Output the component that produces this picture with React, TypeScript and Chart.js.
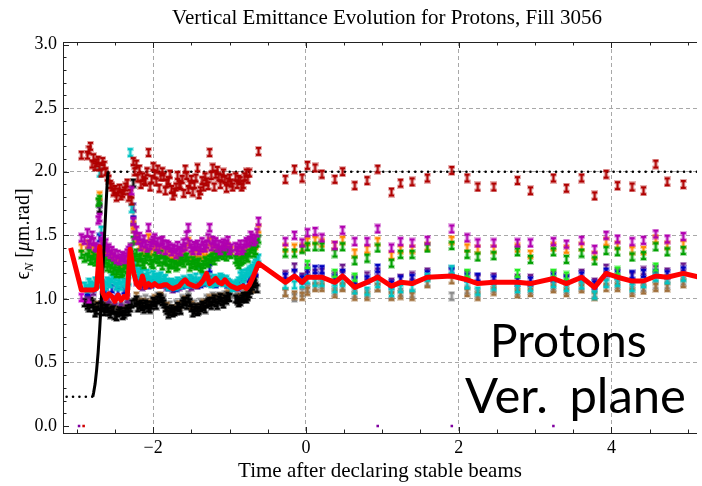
import { useEffect, useRef } from "react";
import { Chart, registerables } from "chart.js";

Chart.register(...registerables);

const titleText = "Vertical Emittance Evolution for Protons, Fill 3056";
const xTitleText = "Time after declaring stable beams";
const noteLine1 = "Protons";
const noteLine2 = "Ver. plane";

// dense region (before stable beams), first sample per column
const denseX = [-2.94, -2.86, -2.82, -2.78, -2.74, -2.70, -2.66, -2.62, -2.58, -2.54,
  -2.50, -2.46, -2.42, -2.38, -2.34, -2.30, -2.26, -2.22, -2.18, -2.14,
  -2.10, -2.06, -2.02, -1.98, -1.94, -1.90, -1.86, -1.82, -1.78, -1.74,
  -1.70, -1.66, -1.62, -1.58, -1.54, -1.50, -1.46, -1.42, -1.38, -1.34,
  -1.30, -1.26, -1.22, -1.18, -1.14, -1.10, -1.06, -1.02, -0.98, -0.94,
  -0.90, -0.86, -0.82, -0.78, -0.74, -0.70, -0.66, -0.62];

const darkRedDense = [2.13, 2.13, 2.20, 2.11, 2.07, 2.04, 2.08, 2.00, 1.94, 1.88,
  1.86, 1.84, 1.81, 1.85, 1.91, 1.83, 2.08, 2.06, 2.02, 1.96,
  1.92, 2.15, 1.94, 1.98, 2.02, 1.96, 1.96, 1.91, 1.98, 1.81,
  1.88, 1.90, 1.94, 2.02, 1.86, 1.94, 1.90, 2.03, 1.85, 1.88,
  1.92, 2.15, 2.03, 1.98, 1.96, 1.95, 1.94, 1.92, 1.91, null,
  1.90, 1.93, 1.90, 1.99, 1.99, null, null, 2.16];

const magentaDense = [1.48, 1.52, 1.46, 1.45, 1.40, 1.64, 1.49, 1.44, 1.40, 1.38,
  1.36, 1.35, 1.32, 1.33, 1.36, 1.40, 1.61, 1.54, 1.49, 1.44,
  1.43, 1.56, 1.44, 1.48, 1.45, 1.45, 1.43, 1.43, 1.40, 1.40,
  1.35, 1.38, 1.40, 1.41, 1.56, 1.40, 1.42, 1.43, 1.40, 1.42,
  1.43, 1.56, 1.46, 1.45, 1.43, 1.42, 1.41, 1.46, 1.40, null,
  1.38, 1.43, 1.40, 1.45, 1.46, 1.48, 1.47, 1.61];

const orangeDense = [1.40, 1.43, 1.40, 1.38, 1.36, 1.81, 1.42, 1.38, 1.35, 1.33,
  1.31, 1.29, 1.27, 1.29, 1.30, 1.33, 1.58, 1.47, 1.42, 1.37,
  1.37, 1.48, 1.37, 1.41, 1.39, 1.40, 1.37, 1.37, 1.35, 1.34,
  1.31, 1.33, 1.35, 1.37, 1.45, 1.34, 1.35, 1.36, 1.33, 1.35,
  1.37, 1.45, 1.39, 1.39, 1.38, 1.38, 1.39, 1.41, 1.38, null,
  1.36, 1.37, 1.36, 1.39, 1.41, 1.44, 1.42, 1.55];

const greenDense = [1.35, 1.33, 1.30, 1.34, 1.32, 1.78, 1.35, 1.31, 1.28, 1.27,
  1.25, 1.22, 1.20, 1.24, 1.23, 1.25, 1.46, 1.36, 1.32, 1.29,
  1.31, 1.36, 1.28, 1.32, 1.31, 1.35, 1.31, 1.29, 1.27, 1.27,
  1.25, 1.29, 1.30, 1.32, 1.30, 1.27, 1.28, 1.28, 1.25, 1.27,
  1.29, 1.31, 1.33, 1.35, 1.35, 1.36, 1.36, 1.37, 1.35, null,
  1.29, 1.29, 1.31, 1.33, 1.36, 1.41, 1.38, 1.47];

const cyanDense = [null, 1.08, 1.11, 1.10, 1.12, 1.99, 1.12, 1.10, 1.13, 1.16,
  1.14, 1.12, 1.10, 1.13, 1.11, 2.15, 1.32, 1.24, 1.19, 1.20,
  1.17, 1.18, 1.15, 1.17, 1.16, 1.18, 1.15, 1.13, 1.12, 1.11,
  1.10, 1.12, 1.13, 1.14, 1.13, 1.15, 1.14, 1.27, 1.14, 1.16,
  1.15, 1.13, 1.14, 1.13, 1.15, 1.16, 1.15, 1.13, 1.11, 1.10,
  1.12, 1.18, 1.16, 1.20, 1.22, 1.24, 1.28, 1.32];

const blackDense = [null, 0.95, 0.98, 0.93, 0.91, 1.71, 0.93, 0.92, 0.90, 0.91,
  0.87, 0.89, 0.90, 0.88, 0.92, 0.93, 1.91, 0.99, 0.95, 0.94,
  0.96, 0.93, 0.95, 0.97, 0.99, 1.00, 0.96, 0.91, 0.90, 0.89,
  0.91, 0.93, 0.96, 0.98, 1.00, 0.93, 0.91, 0.90, 0.93, 0.94,
  0.96, 0.98, 0.98, 0.97, 0.99, 0.98, 1.00, 1.02, null, null,
  0.99, 0.98, 1.02, 1.00, 1.04, 1.10, 1.15, null];

const purpleDense = [null, 1.04, null, 1.06, null, 1.75, 1.02, null, 1.00, null,
  0.99, null, 0.98, null, 1.00, null, 1.72, 1.14, null, 1.10,
  null, 1.11, null, 1.13, null, 1.12, null, 1.10, null, 1.08,
  null, 1.10, null, 1.12, null, 1.10, null, 1.11, null, 1.13,
  null, 1.15, null, 1.14, null, 1.15, null, 1.12, null, null,
  1.10, null, 1.12, null, 1.17, null, 1.22, null];

const blueDense = [null, 1.06, null, 1.09, null, 1.48, null, 1.05, null, 1.08,
  null, 1.06, null, 1.07, null, null, 1.62, null, 1.15, null,
  1.13, null, 1.12, null, 1.14, null, 1.12, null, 1.10, null,
  1.09, null, 1.11, null, 1.12, null, 1.13, null, 1.12, null,
  1.14, 1.24, null, 1.12, null, 1.14, null, 1.12, null, null,
  1.10, null, 1.13, null, 1.16, null, 1.21, null];

const grayDense = [null, 0.99, null, 0.97, null, null, 0.96, null, 0.95, null,
  0.93, null, 0.94, null, 0.96, null, 1.66, null, 0.99, null,
  1.00, null, 0.99, null, 1.02, null, 1.00, null, 0.95, null,
  0.96, null, 1.00, null, 1.03, null, 0.96, null, 0.97, null,
  1.00, null, 1.02, null, 1.02, null, 1.03, null, 1.04, null,
  1.02, null, 1.04, null, 1.07, null, 1.12, null];

const brownDense = [null, null, 0.97, null, 0.95, null, null, 0.94, null, 0.93,
  null, 0.91, null, 0.92, null, null, 1.55, 1.02, null, 0.97,
  null, 0.96, null, 1.00, null, 1.02, null, 0.94, null, 0.92,
  null, 0.95, null, 0.99, null, 0.95, null, 0.93, null, 0.96,
  null, 1.00, null, 1.00, null, 1.01, null, 1.04, null, null,
  null, 1.01, null, 1.03, null, 1.08, null, null];

const meanDense = [1.07, 1.07, 1.07, 1.07, 1.08, 1.41, 1.05, 1.00, 1.04, 1.02,
  0.98, 1.03, 0.99, 1.02, 1.01, 1.39, 1.22, 1.12, 1.09, 1.18,
  1.09, 1.12, 1.10, 1.12, 1.10, 1.10, 1.11, 1.11, 1.09, 1.08,
  1.09, 1.10, 1.13, 1.15, 1.12, 1.11, 1.10, 1.10, 1.12, 1.15,
  1.20, 1.12, 1.14, 1.16, 1.13, 1.12, 1.15, 1.12, 1.10, 1.09,
  1.08, 1.09, 1.10, 1.08, 1.11, 1.16, 1.22, 1.28];

// dense region, second sample per column (in-between times)
const denseX2 = [-2.90, -2.84, -2.80, -2.76, -2.72, -2.68, -2.64, -2.60, -2.56, -2.52,
  -2.48, -2.44, -2.40, -2.36, -2.32, -2.28, -2.24, -2.20, -2.16, -2.12,
  -2.08, -2.04, -2.00, -1.96, -1.92, -1.88, -1.84, -1.80, -1.76, -1.72,
  -1.68, -1.64, -1.60, -1.56, -1.52, -1.48, -1.44, -1.40, -1.36, -1.32,
  -1.28, -1.24, -1.20, -1.16, -1.12, -1.08, -1.04, -1.00, -0.96, -0.92,
  -0.88, -0.84, -0.80, -0.76, -0.72, -0.68, -0.64];

const darkRedDense2 = [null, 2.17, 2.06, 2.04, 2.09, 1.99, 2.05, 1.96, 1.90, 1.84,
  1.80, 1.87, 1.83, 1.88, 1.80, 1.77, 2.00, 1.95, 1.90, 1.93,
  2.00, 1.88, 2.04, 1.92, 1.87, 2.00, 1.85, 1.93, 1.86, 1.84,
  1.97, 1.89, 1.83, 1.97, 1.90, 1.84, 1.95, 1.82, 1.93, 1.96,
  1.89, 1.97, 1.88, 2.01, 1.90, 1.99, 1.87, 1.95, 1.88, 1.96,
  1.94, 1.88, 1.96, 1.94, null, null, null];

const magentaDense2 = [1.46, 1.43, 1.50, 1.41, 1.62, 1.45, 1.41, 1.37, 1.35, 1.33,
  1.31, 1.30, 1.34, 1.31, 1.38, 1.85, 1.50, 1.46, 1.41, 1.47,
  1.40, 1.42, 1.46, 1.41, 1.39, 1.46, 1.38, 1.42, 1.37, 1.39,
  1.42, 1.37, 1.44, 1.50, 1.43, 1.38, 1.41, 1.38, 1.45, 1.40,
  1.48, 1.41, 1.43, 1.40, 1.38, 1.44, 1.43, 1.38, null, 1.41,
  1.40, 1.38, 1.43, 1.44, 1.50, 1.45, 1.52];

const greenDense2 = [1.32, 1.36, 1.31, 1.29, 1.76, 1.32, 1.28, 1.25, 1.24, 1.22,
  1.20, 1.24, 1.21, 1.27, 1.22, 1.40, 1.33, 1.29, 1.33, 1.27,
  1.33, 1.30, 1.27, 1.34, 1.29, 1.26, 1.30, 1.24, 1.28, 1.27,
  1.26, 1.31, 1.28, 1.33, 1.25, 1.30, 1.26, 1.29, 1.24, 1.30,
  1.28, 1.32, 1.30, 1.33, 1.37, 1.34, 1.33, 1.36, null, 1.31,
  1.27, 1.30, 1.35, 1.32, 1.39, 1.36, 1.44];

const cyanDense2 = [1.10, 1.13, 1.09, 1.14, 1.12, 1.54, 1.11, 1.14, 1.12, 1.18,
  1.10, 1.14, 1.16, 1.12, 1.14, 1.71, 1.27, 1.21, 1.22, 1.16,
  1.20, 1.14, 1.19, 1.14, 1.17, 1.13, 1.16, 1.10, 1.13, 1.12,
  1.14, 1.11, 1.15, 1.12, 1.16, 1.12, 1.17, 1.13, 1.17, 1.14,
  1.17, 1.12, 1.16, 1.14, 1.17, 1.13, 1.15, 1.12, 1.09, 1.11,
  1.14, 1.20, 1.18, 1.21, 1.23, 1.26, 1.30];

const blackDense2 = [0.97, 0.93, 0.96, 0.89, 0.94, 0.95, 0.90, 0.93, 0.88, 0.92,
  0.86, 0.91, 0.87, 0.90, 0.90, 0.96, 0.97, 0.93, 0.96, 0.92,
  0.95, 0.92, 0.98, 0.95, 1.01, 0.98, 0.93, 0.88, 0.92, 0.90,
  0.94, 0.91, 0.98, 0.95, 0.97, 0.89, 0.93, 0.91, 0.95, 0.92,
  0.97, 0.95, 1.00, 0.95, 1.01, 0.96, 0.99, 1.01, null, 1.00,
  0.97, 1.00, 1.01, 1.02, 1.07, 1.12, 1.08];

// sparse region (after stable beams)
const sparseX = [-0.27, -0.15, -0.05, 0.02, 0.12, 0.21, 0.38, 0.48, 0.64, 0.80,
  0.94, 1.12, 1.24, 1.39, 1.59, 1.91, 2.11, 2.25, 2.46, 2.77,
  2.94, 3.24, 3.41, 3.61, 3.78, 3.93, 4.08, 4.27, 4.42, 4.58,
  4.73, 4.94];

const darkRedSparse = [1.94, 2.02, 1.95, 2.05, 2.03, 1.98, 1.94, 2.00, 1.89, 1.93,
  2.02, 1.84, 1.91, 1.92, 1.95, 2.01, 1.95, 1.88, 1.88, 1.93,
  1.85, 1.95, 1.87, 1.95, 1.81, 1.98, 1.89, 1.88, 1.85, 2.06,
  1.92, 1.90];
const magentaSparse = [1.45, 1.50, 1.44, 1.52, 1.53, 1.48, 1.42, 1.54, 1.45, 1.45,
  1.55, 1.40, 1.45, 1.44, 1.46, 1.55, 1.48, 1.44, 1.44, 1.44,
  1.44, 1.45, 1.43, 1.46, 1.39, 1.50, 1.47, 1.45, 1.46, 1.51,
  1.47, 1.49];
const orangeSparse = [1.40, 1.40, 1.40, 1.45, 1.46, 1.44, 1.42, 1.46, 1.36, 1.39,
  1.45, 1.34, 1.39, 1.39, 1.41, 1.46, 1.40, 1.39, 1.39, 1.40,
  1.35, 1.41, 1.39, 1.41, 1.34, 1.45, 1.42, 1.38, 1.38, 1.47,
  1.42, 1.43];
const greenSparse = [1.36, 1.36, 1.39, 1.41, 1.41, 1.41, 1.36, 1.41, 1.30, 1.32,
  1.40, 1.28, 1.35, 1.35, 1.40, 1.42, 1.35, 1.33, 1.34, 1.37,
  1.31, 1.37, 1.31, 1.36, 1.30, 1.38, 1.37, 1.33, 1.34, 1.41,
  1.37, 1.38];
const meanSparse = [1.13, 1.18, 1.13, 1.17, 1.17, 1.17, 1.13, 1.18, 1.09, 1.13,
  1.17, 1.10, 1.13, 1.12, 1.17, 1.18, 1.15, 1.12, 1.13, 1.13,
  1.12, 1.16, 1.12, 1.17, 1.09, 1.20, 1.17, 1.14, 1.14, 1.18,
  1.17, 1.20];
const cyanSparse = [1.11, 1.11, 1.12, 1.15, 1.13, 1.13, 1.08, 1.13, 1.07, 1.06,
  1.12, 1.05, 1.08, 1.09, 1.17, 1.23, 1.11, 1.06, 1.10, 1.08,
  1.09, 1.12, 1.09, 1.11, 1.03, 1.12, 1.13, 1.09, 1.12, 1.17,
  1.15, 1.17];
const brownSparse = [1.05, 1.03, 1.02, 1.06, 1.09, 1.09, 1.04, 1.09, 1.02, 1.02,
  1.09, 1.02, 1.03, 1.02, 1.12, 1.15, 1.05, 1.02, 1.06, 1.04,
  1.05, 1.08, 1.05, 1.08, 1.02, 1.09, 1.09, 1.05, 1.07, 1.09,
  1.09, 1.12];
const graySparse = [1.05, 1.01, 1.05, 1.08, 1.10, 1.11, 1.06, 1.10, 1.04, 1.04,
  1.09, 1.03, 1.05, 1.04, 1.13, 1.02, 1.07, 1.04, 1.08, 1.06,
  1.07, 1.10, 1.07, 1.10, 1.04, 1.13, 1.11, 1.07, 1.09, 1.11,
  1.11, 1.14];
const purpleSparse = [1.19, 1.25, 1.17, 1.24, 1.20, 1.21, 1.18, 1.24, 1.15, 1.18,
  1.21, 1.13, 1.16, 1.18, 1.21, 1.22, 1.19, 1.16, 1.17, 1.16,
  1.16, 1.19, 1.16, 1.20, 1.13, 1.24, 1.21, 1.18, 1.22, 1.23,
  1.21, 1.25];
const blueSparse = [1.17, 1.20, 1.15, 1.21, 1.23, 1.23, 1.16, 1.20, 1.14, 1.15,
  1.24, 1.11, 1.15, 1.16, 1.19, 1.21, 1.17, 1.17, 1.15, 1.14,
  1.14, 1.17, 1.15, 1.18, 1.11, 1.21, 1.19, 1.19, 1.20, 1.20,
  1.19, 1.22];
const limeSparse = [null, null, null, 1.27, null, null, 1.20, null, 1.17, null,
  null, null, null, null, null, null, 1.20, null, null, 1.20,
  null, 1.20, 1.18, null, null, null, 1.22, null, null, 1.25,
  null, null];

// mean line ends
const meanHeadX = [-3.08];
const meanHeadY = [1.40];
const meanTailX = [5.15];
const meanTailY = [1.17];

// low magenta points at start
const magentaLowX = [-2.94, -2.84];
const magentaLowY = [1.01, 1.00];

// zero-valued points
const zeroPurpleX = [-2.97, 0.94, 1.91, 3.24];
const zeroRedX = [-2.91];

// scaled energy ramp (black)
const rampX = [-2.79, -2.78, -2.76, -2.74, -2.72, -2.70, -2.68, -2.66, -2.64, -2.62, -2.60, -2.59];
const rampY = [0.23, 0.26, 0.33, 0.44, 0.58, 0.76, 0.97, 1.20, 1.45, 1.70, 1.93, 2.00];
const injLevelX = [-3.30, -2.79];
const injLevelY = [0.23, 0.23];
const topLevelX = [-2.59, 5.30];
const topLevelY = [2.0, 2.0];

// axes
const xMin = -3.18, xMax = 5.12, yMin = -0.055, yMax = 3.02;
const xMajorTicks = [-2, 0, 2, 4];
const yMajorTicks = [0, 0.5, 1.0, 1.5, 2.0, 2.5, 3.0];

type Pt = { x: number; y: number };
function pair(xs: number[], ys: (number | null)[]): Pt[] {
  const out: Pt[] = [];
  xs.forEach((x, i) => {
    const y = ys[i];
    if (y !== null && y !== undefined) out.push({ x, y });
  });
  return out;
}

function errBar(color: string): HTMLCanvasElement {
  const w = 5, h = 9, pad = 1;
  const c = document.createElement("canvas");
  c.width = w + 2 * pad;
  c.height = h + 2 * pad;
  const g = c.getContext("2d")!;
  const shape = (grow: number) => {
    const cap = 2, stem = 2;
    g.fillRect(pad - grow, pad - grow, w + 2 * grow, cap + 2 * grow);
    g.fillRect(pad + (w - stem) / 2 - grow, pad, stem + 2 * grow, h);
    g.fillRect(pad - grow, pad + h - cap - grow, w + 2 * grow, cap + 2 * grow);
  };
  g.fillStyle = color;
  g.globalAlpha = 0.3;
  shape(1);
  g.globalAlpha = 1;
  shape(0);
  return c;
}

const serif = "'Liberation Serif', 'Times New Roman', serif";

const decorPlugin = {
  id: "decor",
  afterDraw(chart: any) {
    const { ctx, chartArea } = chart;
    const { left, right, top, bottom } = chartArea;
    const xs = chart.scales.x;
    const ys = chart.scales.y;
    ctx.save();
    // frame
    ctx.strokeStyle = "#222";
    ctx.lineWidth = 1;
    ctx.beginPath();
    ctx.moveTo(Math.round(left) + 0.5, top);
    ctx.lineTo(Math.round(left) + 0.5, bottom);
    ctx.moveTo(left, Math.round(bottom) + 0.5);
    ctx.lineTo(right, Math.round(bottom) + 0.5);
    ctx.moveTo(left, Math.round(top) + 0.5);
    ctx.lineTo(right, Math.round(top) + 0.5);
    // y ticks (major 0.5, minor 0.1)
    for (let k = 0; k <= 30; k++) {
      const v = k / 10;
      const py = Math.round(ys.getPixelForValue(v)) + 0.5;
      const len = k % 5 === 0 ? 6 : 3.5;
      ctx.moveTo(left, py);
      ctx.lineTo(left + len, py);
    }
    // x ticks (major 2, minor 0.5)
    for (let k = -6; k <= 10; k++) {
      const v = k / 2;
      const px = Math.round(xs.getPixelForValue(v)) + 0.5;
      if (px < left || px > right) continue;
      const len = xMajorTicks.includes(v) ? 6 : 3.5;
      ctx.moveTo(px, bottom);
      ctx.lineTo(px, bottom - len);
      ctx.moveTo(px, top);
      ctx.lineTo(px, top + len);
    }
    ctx.stroke();

    // title
    ctx.fillStyle = "#000";
    ctx.font = `21px ${serif}`;
    ctx.textAlign = "center";
    ctx.textBaseline = "middle";
    ctx.fillText(titleText, 387, 18);

    // y-axis label: ϵ_N [μm.rad]
    ctx.save();
    ctx.translate(29, 234);
    ctx.rotate(-Math.PI / 2);
    ctx.textAlign = "left";
    ctx.textBaseline = "alphabetic";
    const parts = [
      { t: "\u03F5", f: `20px ${serif}`, dy: 0 },
      { t: "N", f: `italic 13px ${serif}`, dy: 4 },
      { t: " [", f: `20px ${serif}`, dy: 0 },
      { t: "\u03BC", f: `italic 20px ${serif}`, dy: 0 },
      { t: "m.rad]", f: `20px ${serif}`, dy: 0 },
    ];
    let total = 0;
    const widths = parts.map((p) => {
      ctx.font = p.f;
      const wdt = ctx.measureText(p.t).width;
      total += wdt;
      return wdt;
    });
    let cx = -total / 2;
    parts.forEach((p, i) => {
      ctx.font = p.f;
      ctx.fillText(p.t, cx, p.dy);
      cx += widths[i];
    });
    ctx.restore();

    // annotation
    ctx.fillStyle = "#000";
    ctx.textAlign = "left";
    ctx.textBaseline = "alphabetic";
    ctx.font = "46px Lato, 'Open Sans', sans-serif";
    ctx.fillText(noteLine1, 490, 357);
    ctx.font = "49px Lato, 'Open Sans', sans-serif";
    try { (ctx as any).wordSpacing = "9px"; } catch (e) { /* ignore */ }
    ctx.fillText(noteLine2, 465, 413);
    ctx.restore();
  },
};

export default function App() {
  const ref = useRef<HTMLCanvasElement | null>(null);
  useEffect(() => {
    if (!ref.current) return;
    const scatter = (label: string, data: Pt[], color: string) => ({
      label,
      data,
      pointStyle: errBar(color) as any,
      pointRadius: 3,
      showLine: false,
    });
    const line = (label: string, data: Pt[], color: string, width: number, dotted: boolean) => ({
      label,
      data,
      showLine: true,
      borderColor: color,
      borderWidth: width,
      pointRadius: 0,
      borderDash: dotted ? [0, 6.4] : [],
      borderCapStyle: dotted ? "round" : "butt",
      borderJoinStyle: "round",
      tension: 0,
    });
    const dot = (label: string, data: Pt[], color: string) => ({
      label,
      data,
      pointStyle: "rect",
      pointRadius: 1.8,
      backgroundColor: color,
      borderColor: color,
      borderWidth: 0,
      showLine: false,
    });

    const datasets: any[] = [
      line("Mean", pair([...meanHeadX, ...denseX, ...sparseX, ...meanTailX], [...meanHeadY, ...meanDense, ...meanSparse, ...meanTailY]), "#ff0000", 5, false),
      line("Energy ramp", pair(rampX, rampY), "#000000", 3, false),
      scatter("B1 magenta", [...pair(denseX, magentaDense), ...pair(denseX2, magentaDense2), ...pair(sparseX, magentaSparse)], "#b000b0"),
      scatter("B1 green", [...pair(denseX, greenDense), ...pair(denseX2, greenDense2), ...pair(sparseX, greenSparse)], "#00a000"),
      scatter("B1 orange", [...pair(denseX, orangeDense), ...pair(sparseX, orangeSparse)], "#ff8800"),
      scatter("B1 dark red", [...pair(denseX, darkRedDense), ...pair(denseX2, darkRedDense2), ...pair(sparseX, darkRedSparse)], "#b00000"),
      scatter("B2 lime", pair(sparseX, limeSparse), "#22ee22"),
      scatter("B2 cyan", [...pair(denseX, cyanDense), ...pair(denseX2, cyanDense2), ...pair(sparseX, cyanSparse)], "#00c4c4"),
      scatter("B2 blue", [...pair(denseX, blueDense), ...pair(sparseX, blueSparse)], "#0000c0"),
      scatter("B2 purple", [...pair(denseX, purpleDense), ...pair(sparseX, purpleSparse)], "#6a1b8a"),
      scatter("B2 magenta low", pair(magentaLowX, magentaLowY), "#cc00cc"),
      scatter("B2 black", [...pair(denseX, blackDense), ...pair(denseX2, blackDense2)], "#000000"),
      scatter("B2 brown", [...pair(denseX, brownDense), ...pair(sparseX, brownSparse)], "#a0703c"),
      scatter("B2 gray", [...pair(denseX, grayDense), ...pair(sparseX, graySparse)], "#8c8c8c"),
      dot("zero purple", zeroPurpleX.map((x) => ({ x, y: 0 })), "#8000a0"),
      dot("zero red", zeroRedX.map((x) => ({ x, y: 0 })), "#d00000"),
      line("Injection level", pair(injLevelX, injLevelY), "#000000", 2.6, true),
      line("Top level", pair(topLevelX, topLevelY), "#000000", 2.6, true),
    ];
    datasets.forEach((d, i) => (d.order = i));

    const chart = new Chart(ref.current, {
      type: "scatter",
      data: { datasets },
      options: {
        animation: false,
        responsive: true,
        maintainAspectRatio: false,
        layout: { padding: { top: 42, left: 0, right: 0, bottom: 0 } },
        plugins: { legend: { display: false }, tooltip: { enabled: false }, title: { display: false } },
        scales: {
          x: {
            type: "linear",
            min: xMin,
            max: xMax,
            afterFit: (s: any) => { s.height = 53; },
            grid: { color: "#a8a8a8", lineWidth: 1, drawTicks: false },
            border: { display: false, dash: [4, 3] },
            ticks: {
              stepSize: 2,
              includeBounds: false,
              padding: 4,
              color: "#000",
              maxRotation: 0,
              autoSkip: false,
              font: { family: serif, size: 18 },
              callback: (v: any) => (v < 0 ? "\u2212" + Math.abs(v) : String(v)),
            },
            title: {
              display: true,
              text: xTitleText,
              color: "#000",
              font: { family: serif, size: 21 },
              padding: { top: 0, bottom: 2 },
            },
          },
          y: {
            type: "linear",
            min: yMin,
            max: yMax,
            afterFit: (s: any) => { s.width = 63; },
            grid: {
              color: (c: any) => (c.tick && c.tick.value > 0.25 && c.tick.value < 2.75 ? "#a8a8a8" : "rgba(0,0,0,0)"),
              lineWidth: 1,
              drawTicks: false,
            },
            border: { display: false, dash: [4, 3] },
            ticks: {
              stepSize: 0.5,
              includeBounds: false,
              padding: 6,
              color: "#000",
              font: { family: serif, size: 18 },
              callback: (v: any) => (yMajorTicks.includes(Number(v)) ? Number(v).toFixed(1) : ""),
            },
          },
        },
      },
      plugins: [decorPlugin],
    } as any);
    return () => chart.destroy();
  }, []);

  return (
    <div style={{ position: "fixed", left: 0, top: 0, width: 702, height: 486, background: "#fff" }}>
      <canvas ref={ref} />
    </div>
  );
}
